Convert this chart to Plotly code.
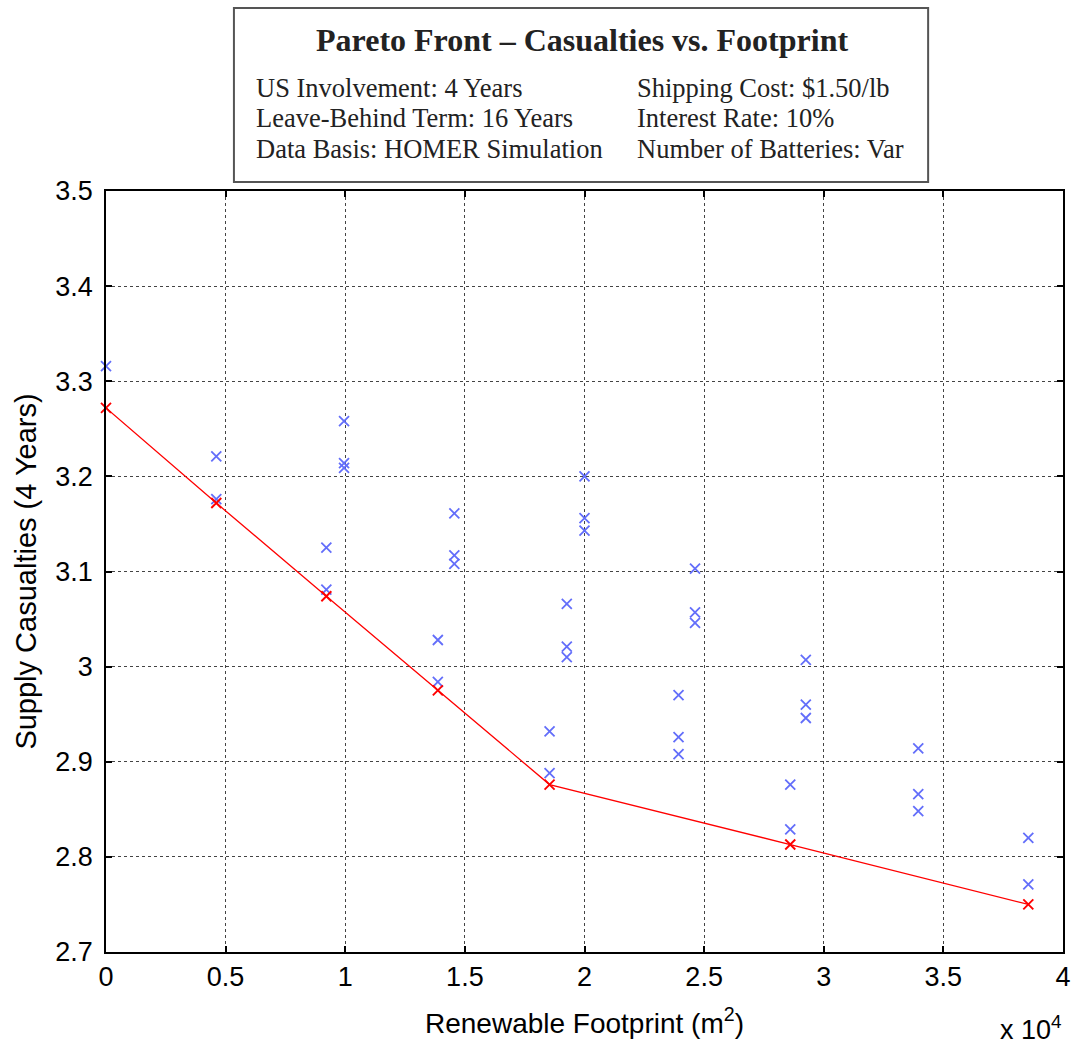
import plotly.graph_objects as go

# ---- data (footprint in m^2, casualties) ----
blue_x = [0,
          4610, 4610,
          9210, 9210,
          9950, 9950, 9950,
          13870, 13870,
          14560, 14560, 14560,
          18540, 18540,
          19260, 19260, 19260,
          20000, 20000, 20000,
          23930, 23930, 23930,
          24620, 24620, 24620,
          28600, 28600,
          29250, 29250, 29250,
          33950, 33950, 33950,
          38550, 38550]
blue_y = [3.316,
          3.221, 3.176,
          3.125, 3.081,
          3.258, 3.214, 3.209,
          3.028, 2.984,
          3.161, 3.117, 3.108,
          2.932, 2.888,
          3.066, 3.021, 3.010,
          3.200, 3.156, 3.143,
          2.970, 2.926, 2.908,
          3.103, 3.057, 3.046,
          2.876, 2.829,
          3.007, 2.960, 2.946,
          2.914, 2.866, 2.848,
          2.820, 2.771]

pareto_x = [0, 4610, 9210, 13870, 18540, 28600, 38550]
pareto_y = [3.272, 3.172, 3.074, 2.975, 2.876, 2.813, 2.750]

x_tickvals = [0, 5000, 10000, 15000, 20000, 25000, 30000, 35000, 40000]
x_ticktext = ["0", "0.5", "1", "1.5", "2", "2.5", "3", "3.5", "4"]
y_tickvals = [2.7, 2.8, 2.9, 3.0, 3.1, 3.2, 3.3, 3.4, 3.5]
y_ticktext = ["2.7", "2.8", "2.9", "3", "3.1", "3.2", "3.3", "3.4", "3.5"]

title_text = "Pareto Front \u2013 Casualties vs. Footprint"
left_lines = ["US Involvement: 4 Years", "Leave-Behind Term: 16 Years", "Data Basis: HOMER Simulation"]
right_lines = ["Shipping Cost: $1.50/lb", "Interest Rate: 10%", "Number of Batteries: Var"]

fig = go.Figure()
fig.add_trace(go.Scatter(
    x=blue_x, y=blue_y, mode="markers", cliponaxis=False,
    marker=dict(symbol="x-thin-open", size=10, line=dict(color="#0000ff", width=1.8)),
    showlegend=False, hoverinfo="x+y"))
fig.add_trace(go.Scatter(
    x=pareto_x, y=pareto_y, mode="lines+markers", cliponaxis=False,
    line=dict(color="#ff0000", width=1.3),
    marker=dict(symbol="x-thin-open", size=10, line=dict(color="#d4103c", width=1.9)),
    showlegend=False, hoverinfo="x+y"))

W, H = 1079, 1044
L, R, T, B = 106, 8, 191, 92
pw, ph = W - L - R, H - T - B

def px_x(p):
    return (p - L) / pw

def px_y(p):
    return (H - B - p) / ph

axis_common = dict(
    showline=True, linecolor="black", linewidth=1.5, mirror="ticks",
    ticks="inside", ticklen=6, tickwidth=1.5, tickcolor="black",
    showgrid=True, gridcolor="#444444", griddash="dot", gridwidth=1,
    zeroline=False,
    tickfont=dict(family="Liberation Sans, Arial", size=27, color="black"),
)

fig.update_xaxes(range=[0, 40000], tickmode="array", tickvals=x_tickvals, ticktext=x_ticktext,
                 title=dict(text="Renewable Footprint (m<sup>2</sup>)", standoff=22,
                            font=dict(family="Liberation Sans, Arial", size=28, color="black")),
                 **axis_common)
fig.update_yaxes(range=[2.7, 3.5], tickmode="array", tickvals=y_tickvals, ticktext=y_ticktext,
                 ticklabelstandoff=6,
                 title=dict(text="Supply Casualties (4 Years)", standoff=10,
                            font=dict(family="Liberation Sans, Arial", size=29, color="black")),
                 **axis_common)

annotations = []
annotations.append(dict(x=px_x(586), y=px_y(40), xref="paper", yref="paper", text="<b>" + title_text + "</b>",
                        showarrow=False, xanchor="center", yanchor="middle",
                        font=dict(family="Liberation Serif, Times New Roman", size=32, color="#222222")))
ys = [88, 118, 149]
for t, yy in zip(left_lines, ys):
    annotations.append(dict(x=px_x(255), y=px_y(yy), xref="paper", yref="paper", text=t,
                            showarrow=False, xanchor="left", yanchor="middle",
                            font=dict(family="Liberation Serif, Times New Roman", size=26.5, color="#222222")))
for t, yy in zip(right_lines, ys):
    annotations.append(dict(x=px_x(639), y=px_y(yy), xref="paper", yref="paper", text=t,
                            showarrow=False, xanchor="left", yanchor="middle",
                            font=dict(family="Liberation Serif, Times New Roman", size=26.5, color="#222222")))
annotations.append(dict(x=px_x(1072), y=px_y(1028), xref="paper", yref="paper", text="x 10<sup>4</sup>",
                        showarrow=False, xanchor="right", yanchor="middle",
                        font=dict(family="Liberation Sans, Arial", size=27, color="black")))

fig.update_layout(
    width=W, height=H,
    margin=dict(l=L, r=R, t=T, b=B),
    paper_bgcolor="white", plot_bgcolor="white",
    annotations=annotations,
    shapes=[dict(type="rect", xref="paper", yref="paper",
                 x0=px_x(235), x1=px_x(935), y0=px_y(182), y1=px_y(8),
                 line=dict(color="#555555", width=2), fillcolor="white")],
)

fig.write_html("out.html")
